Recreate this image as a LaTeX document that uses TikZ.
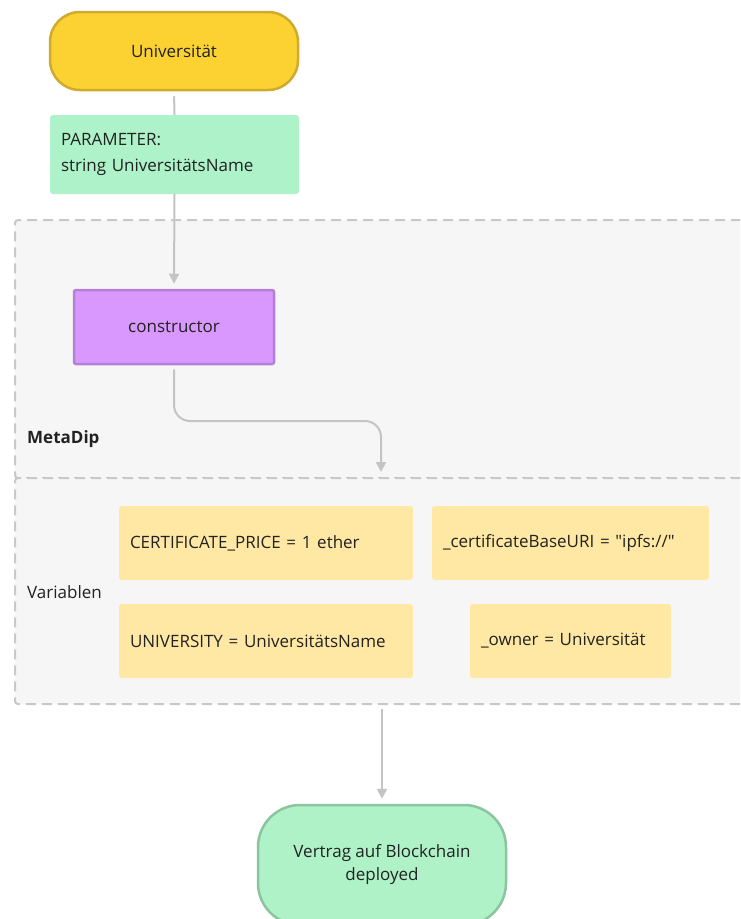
\documentclass[tikz,border=0pt]{standalone}
\usepackage{fontspec}
\setmainfont{Open Sans}
\usetikzlibrary{arrows.meta,calc}

\definecolor{txt}{HTML}{222222}
\definecolor{link}{HTML}{C4C4C4}
\definecolor{frame}{HTML}{C8C8C8}
\definecolor{groupbg}{HTML}{F6F6F6}
\definecolor{uniFill}{HTML}{FCD232}
\definecolor{uniLine}{HTML}{CFAA2E}
\definecolor{paramFill}{HTML}{ADF2C8}
\definecolor{ctorFill}{HTML}{D898FD}
\definecolor{ctorLine}{HTML}{B47FD6}
\definecolor{varFill}{HTML}{FFE8A3}
\definecolor{endFill}{HTML}{AFF2C8}
\definecolor{endLine}{HTML}{8CC49F}

\tikzset{
  every node/.style={text=txt, font=\fontsize{17}{26}\selectfont},
  pill/.style={draw, line width=2.5pt, rounded corners=30pt, inner sep=0pt, align=center},
  paramcard/.style={fill=paramFill, rounded corners=3pt, inner xsep=11pt, inner ysep=0pt,
    minimum width=249pt, minimum height=79pt, text width=227pt, align=left},
  ctorbox/.style={fill=ctorFill, draw=ctorLine, line width=2.5pt, rounded corners=2pt,
    minimum width=200pt, minimum height=74pt, inner sep=0pt},
  varcard/.style={fill=varFill, rounded corners=3pt, inner xsep=11pt, inner ysep=0pt,
    minimum height=74pt, align=left},
  group/.style={fill=groupbg, draw=frame, line width=2pt, dash pattern=on 10pt off 6pt,
    rounded corners=3pt, inner sep=0pt},
  grouplabel/.style={anchor=base west, inner sep=0pt},
  link/.style={draw=link, line width=2pt},
  arrowlink/.style={link, -{Triangle[length=10pt,width=10pt]}},
}

\begin{document}
\begin{tikzpicture}[x=1pt, y=-1pt]
  \useasboundingbox (0,0) rectangle (740,919);
  \clip (0,0) rectangle (740,919);
  \fill[white] (0,0) rectangle (740,919);

  % containers
  \node[group, minimum width=745pt, minimum height=258pt] (meta) at (387.5,349) {};
  \node[group, minimum width=745pt, minimum height=226pt] (vars) at (387.5,591) {};
  \node[grouplabel, font=\fontsize{17}{26}\selectfont\bfseries] (metalbl) at (27,443) {MetaDip};
  \node[grouplabel] (varlbl) at (27,598) {Variablen};

  % flow nodes
  \node[pill, fill=uniFill, draw=uniLine, minimum width=248pt, minimum height=78pt] (uni) at (174,51) {Universität};
  \node[paramcard] (param) at (174.5,154.5) {\raisebox{-2pt}{PARAMETER:}\\\raisebox{-2pt}{string UniversitätsName}};
  \node[ctorbox] (ctor) at (174,327) {constructor};

  \node[varcard, minimum width=294pt, text width=272pt] (price) at (266,543) {CERTIFICATE\_PRICE = 1 ether};
  \node[varcard, minimum width=277pt, text width=255pt] (baseuri) at (570.5,543) {\_certificateBaseURI = \textquotedbl ipfs://\textquotedbl};
  \node[varcard, minimum width=294pt, text width=272pt] (univar) at (266,641) {UNIVERSITY = UniversitätsName};
  \node[varcard, minimum width=201pt, text width=179pt] (owner) at (570.5,641) {\_owner = Universität};

  \node[pill, fill=endFill, draw=endLine, rounded corners=42pt, minimum width=248pt, minimum height=120pt,
        font=\fontsize{17}{23}\selectfont] (deploy) at (382,865) {Vertrag auf Blockchain\\deployed};

  % connectors
  \draw[link, shorten <=5pt] (uni.south) -- (param.north);
  \draw[arrowlink, shorten >=5pt] (param.south) -- (ctor.north);
  \coordinate (bend) at (381,421);
  \draw[arrowlink, rounded corners=16pt, shorten <=4pt, shorten >=5pt]
    (ctor.south) |- (bend) -- (bend |- vars.north);
  \draw[arrowlink, shorten <=4pt, shorten >=5pt] (vars.south -| deploy.north) -- (deploy.north);
\end{tikzpicture}
\end{document}
